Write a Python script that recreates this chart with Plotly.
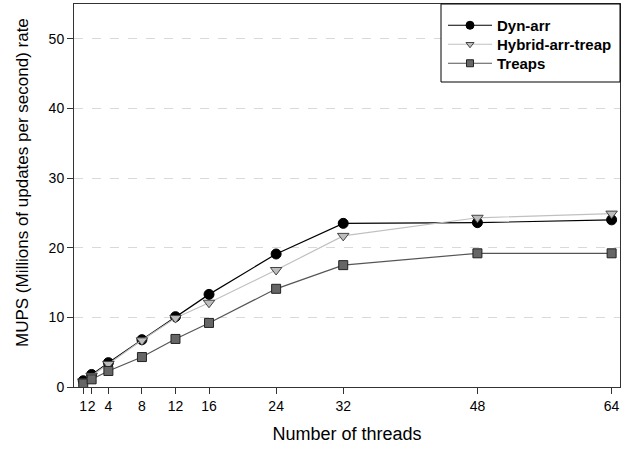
import plotly.graph_objects as go

threads = [1, 2, 4, 8, 12, 16, 24, 32, 48, 64]
tick_labels = ["1", "2", "4", "8", "12", "16", "24", "32", "48", "64"]
dyn_arr = [0.9, 1.8, 3.5, 6.8, 10.1, 13.3, 19.1, 23.5, 23.6, 24.0]
hybrid = [0.8, 1.6, 3.3, 6.7, 9.9, 12.1, 16.8, 21.7, 24.3, 24.9]
treaps = [0.5, 1.1, 2.3, 4.3, 6.9, 9.2, 14.1, 17.5, 19.2, 19.2]

series = [
    ("Dyn-arr", dyn_arr,
     dict(color="black", width=1.2),
     dict(symbol="circle", size=10, color="black", line=dict(color="black", width=1)), 8),
    ("Hybrid-arr-treap", hybrid,
     dict(color="#c0c0c0", width=1.2),
     dict(symbol="triangle-down", size=10, color="#bdbdbd", line=dict(color="#444444", width=1)), 7),
    ("Treaps", treaps,
     dict(color="#555555", width=1.2),
     dict(symbol="square", size=9, color="#666666", line=dict(color="#222222", width=1)), 7),
]

PLOT_L, PLOT_W, PLOT_B, PLOT_H = 74, 546, 387, 383
legend_rows_px = [25.5, 44.5, 63.5]
legend_names = ["legend", "legend2", "legend3"]

fig = go.Figure()
for name, vals, ln, mk, lsize in series:
    fig.add_trace(go.Scatter(x=threads, y=vals, name=name, mode="lines+markers",
                             line=ln, marker=mk, showlegend=False))
for (name, vals, ln, mk, lsize), lg in zip(series, legend_names):
    mk2 = dict(mk)
    mk2["size"] = lsize
    fig.add_trace(go.Scatter(x=[None], y=[None], name=name, mode="lines+markers",
                             line=ln, marker=mk2, showlegend=True, legend=lg))

# legend frame
fig.add_shape(type="rect", xref="paper", yref="paper",
              x0=(441 - PLOT_L) / PLOT_W, x1=1.0, y0=(PLOT_B - 82) / PLOT_H, y1=1.0,
              line=dict(color="black", width=1), fillcolor="white", layer="above")

legend_common = dict(
    xanchor="left", yanchor="middle",
    borderwidth=0, bgcolor="rgba(0,0,0,0)",
    font=dict(size=15, weight="bold"),
    itemwidth=44, tracegroupgap=0,
)
legend_layout = {}
for lg, ypx in zip(legend_names, legend_rows_px):
    legend_layout[lg] = dict(legend_common, x=(443 - PLOT_L) / PLOT_W, y=(PLOT_B - ypx) / PLOT_H)

# y-axis title as a rotated annotation (slightly above plot centre, as in the reference)
fig.add_annotation(text="MUPS (Millions of updates per second) rate",
                   xref="paper", yref="paper",
                   x=(22 - PLOT_L) / PLOT_W, y=(PLOT_B - 183) / PLOT_H,
                   xanchor="center", yanchor="middle", textangle=-90,
                   showarrow=False, font=dict(size=17))

fig.update_layout(
    width=626, height=453,
    margin=dict(l=74, r=6, t=4, b=66),
    paper_bgcolor="white", plot_bgcolor="white",
    font=dict(family="Arial, Liberation Sans, sans-serif", color="black", size=14),
    showlegend=True,
    xaxis=dict(
        range=[-0.1, 65], tickvals=threads, ticktext=tick_labels, tickangle=0,
        showline=True, linecolor="#333333", linewidth=1, mirror=True,
        ticks="outside", ticklen=6, tickcolor="#333333",
        showgrid=False, zeroline=False,
        title=dict(text="Number of threads", font=dict(size=18), standoff=14),
    ),
    yaxis=dict(
        range=[0, 55], tickvals=[0, 10, 20, 30, 40, 50],
        showline=True, linecolor="#333333", linewidth=1, mirror=True,
        ticks="outside", ticklen=6, tickcolor="#333333",
        showgrid=True, gridcolor="#d9d9d9", griddash="dash", gridwidth=1,
        zeroline=False,
    ),
    **legend_layout,
)

fig.write_html("out.html")
